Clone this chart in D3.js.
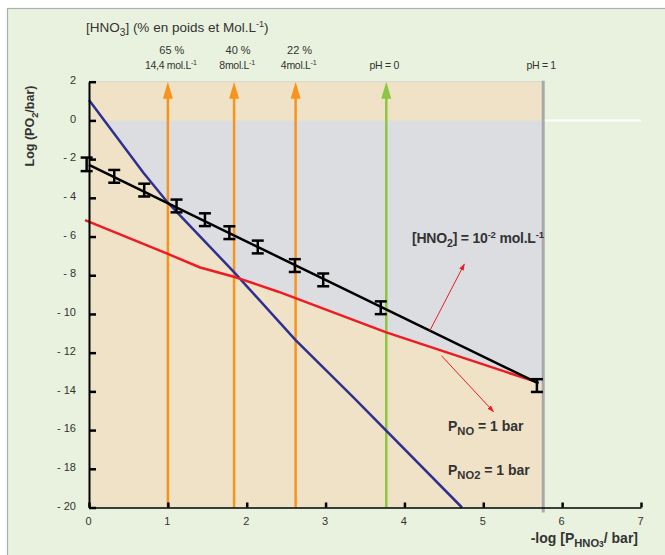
<!DOCTYPE html>
<html><head><meta charset="utf-8">
<script src="https://cdn.jsdelivr.net/npm/d3@7"></script>
<style>html,body{margin:0;padding:0;background:#fff}svg{display:block}text{font-family:"Liberation Sans",Arial,sans-serif}</style>
</head><body><svg id="c" width="665" height="555"></svg>
<script>
// ---- data ----
const xTicks = [0,1,2,3,4,5,6,7];
const yTicks = [2,0,-2,-4,-6,-8,-10,-12,-14,-16,-18,-20];
// P_NO2 = 1 bar (blue)
const blueX = [0, 0.69, 1.0, 1.83, 2.62, 3.35, 4.73];
const blueY = [1.05, -2.7, -4.25, -7.8, -11.35, -14.3, -20];
// P_NO = 1 bar (red)
const redX = [-0.05, 1.0, 1.41, 1.87, 2.4, 3.77, 5.7];
const redY = [-5.15, -6.9, -7.6, -8.12, -8.85, -10.95, -13.55];
// [HNO2] = 1e-2 mol/L fitted line (black)
const fitX = [0, 5.7];
const fitY = [-2.3, -13.59];
// measurements with error bars
const measX = [-0.03, 0.32, 0.70, 1.11, 1.47, 1.78, 2.14, 2.61, 2.97, 3.70, 5.68];
const measY = [-2.27, -2.89, -3.6, -4.42, -5.13, -5.8, -6.54, -7.5, -8.24, -9.68, -13.7];
const measErr = [0.35, 0.33, 0.33, 0.33, 0.33, 0.33, 0.33, 0.33, 0.33, 0.33, 0.33];
// concentration arrows
const concX = [1.0, 1.84, 2.62];
const concPct = ["65 %", "40 %", "22 %"];
const concMol = ["14,4 mol.L", "8mol.L", "4mol.L"];
const phX = [3.77, 5.76];
const phLabels = ["pH = 0", "pH = 1"];
const limitX = 5.76;
// red pointer arrows [x1,y1,x2,y2]
const ptrHNO2 = [4.32, -10.88, 4.76, -7.42];
const ptrNO = [4.47, -12.16, 5.13, -15.05];

// ---- scales ----
const svg = d3.select("#c");
const x = d3.scaleLinear().domain([0,7]).range([89,641]);
const y = d3.scaleLinear().domain([2,-20]).range([81.7,507.5]);

// background frame
svg.append("rect").attr("x",7.5).attr("y",8.5).attr("width",700).attr("height",600)
  .attr("fill","#e9f2de").attr("stroke","#a9aeb0").attr("stroke-width",1.2);

// tan domain
svg.append("rect").attr("x",x(0)).attr("y",y(2)).attr("width",x(limitX)-x(0)).attr("height",y(-20)-y(2))
  .attr("fill","#f0e2c6");
svg.append("line").attr("x1",x(0)).attr("x2",x(limitX)).attr("y1",y(2)).attr("y2",y(2))
  .attr("stroke","#d9d6cc").attr("stroke-width",1);

// gray region: below 0, above max(blue, red)
function interp(xs, ys, v){
  if (v <= xs[0]) { const s=(ys[1]-ys[0])/(xs[1]-xs[0]); return ys[0]+s*(v-xs[0]); }
  for (let i=1;i<xs.length;i++){ if (v<=xs[i]) { const t=(v-xs[i-1])/(xs[i]-xs[i-1]); return ys[i-1]+t*(ys[i]-ys[i-1]); } }
  const n=xs.length-1, s=(ys[n]-ys[n-1])/(xs[n]-xs[n-1]); return ys[n]+s*(v-xs[n]);
}
const samples = d3.range(0, limitX+0.0001, 0.005);
const area = d3.area().x(d=>x(d)).y0(y(0))
  .y1(d=>y(Math.min(0, Math.max(interp(blueX,blueY,d), interp(redX,redY,d)))));
svg.append("path").datum(samples).attr("d",area).attr("fill","#dcdde0");

// white line at 0 beyond limit
svg.append("line").attr("x1",x(limitX)).attr("x2",x(7)).attr("y1",y(0)).attr("y2",y(0))
  .attr("stroke","#fff").attr("stroke-width",2);

// limit gray vertical line
svg.append("line").attr("x1",x(limitX)).attr("x2",x(limitX)).attr("y1",y(2)-1).attr("y2",y(-20)+5)
  .attr("stroke","#a7a9ac").attr("stroke-width",3);

// vertical arrows
function vArrow(xv, color){
  const tip = y(2);
  svg.append("line").attr("x1",x(xv)).attr("x2",x(xv)).attr("y1",y(-20)).attr("y2",tip+10)
    .attr("stroke",color).attr("stroke-width",2.5);
  svg.append("path").attr("d",`M${x(xv)},${tip} L${x(xv)-5},${tip+17} L${x(xv)+5},${tip+17} Z`).attr("fill",color);
}
concX.forEach(v=>vArrow(v,"#f7941d"));
vArrow(phX[0],"#8cc63f");

// lines
const line = d3.line().x(d=>x(d[0])).y(d=>y(d[1]));
svg.append("path").datum(blueX.map((v,i)=>[v,blueY[i]])).attr("d",line)
  .attr("fill","none").attr("stroke","#2e3192").attr("stroke-width",2.5);
svg.append("path").datum(redX.map((v,i)=>[v,redY[i]])).attr("d",line)
  .attr("fill","none").attr("stroke","#ed1c24").attr("stroke-width",2.5).attr("stroke-linejoin","round");
svg.append("path").datum(fitX.map((v,i)=>[v,fitY[i]])).attr("d",line)
  .attr("fill","none").attr("stroke","#000").attr("stroke-width",2.5);

// error bars
const eb = svg.append("g").attr("stroke","#000").attr("stroke-width",2.5);
measX.forEach((v,i)=>{
  const cx=x(v), y1=y(measY[i]+measErr[i]), y2=y(measY[i]-measErr[i]);
  eb.append("line").attr("x1",cx).attr("x2",cx).attr("y1",y1).attr("y2",y2);
  eb.append("line").attr("x1",cx-6).attr("x2",cx+6).attr("y1",y1).attr("y2",y1);
  eb.append("line").attr("x1",cx-6).attr("x2",cx+6).attr("y1",y2).attr("y2",y2);
});

// red pointer arrows
svg.append("defs").append("marker").attr("id","ah").attr("viewBox","0 0 10 10").attr("refX",9).attr("refY",5)
  .attr("markerWidth",7).attr("markerHeight",7).attr("orient","auto")
  .append("path").attr("d","M0,1.5 L10,5 L0,8.5 Z").attr("fill","#ed1c24");
[ptrHNO2, ptrNO].forEach(p=>{
  svg.append("line").attr("x1",x(p[0])).attr("y1",y(p[1])).attr("x2",x(p[2])).attr("y2",y(p[3]))
    .attr("stroke","#ed1c24").attr("stroke-width",1).attr("marker-end","url(#ah)");
});

// axes
const fmtY = d => d<0 ? "- " + (-d) : String(d);
const ya = svg.append("g").attr("transform",`translate(${x(0)},0)`)
  .call(d3.axisLeft(y).tickValues(yTicks).tickSizeInner(-7).tickSizeOuter(0).tickPadding(13).tickFormat(fmtY));
ya.select(".domain").attr("stroke","#000").attr("stroke-width",2);
ya.selectAll(".tick line").attr("stroke","#000").attr("stroke-width",2.5);
ya.selectAll(".tick text").attr("font-size",11).attr("fill","#333").attr("dy","0.15em")
  .attr("font-family","Liberation Sans, Arial, sans-serif");

const xa = svg.append("g").attr("transform",`translate(0,${y(-20)})`)
  .call(d3.axisBottom(x).tickValues(xTicks).tickSizeInner(-5).tickSizeOuter(0).tickPadding(10).tickFormat(d3.format("d")));
xa.select(".domain").attr("stroke","#000").attr("stroke-width",1.5);
xa.selectAll(".tick line").attr("stroke","#000").attr("stroke-width",2.5);
xa.selectAll(".tick text").attr("font-size",11).attr("fill","#333").attr("dx","-1")
  .attr("font-family","Liberation Sans, Arial, sans-serif");

// helper for rich text
function rich(parent, xp, yp, parts, opts){
  const t = parent.append("text").attr("x",xp).attr("y",yp)
    .attr("font-size",opts.size).attr("fill",opts.fill||"#333").attr("font-weight",opts.weight||"normal")
    .attr("text-anchor",opts.anchor||"start");
  if (opts.spacing) t.attr("letter-spacing",opts.spacing);
  let shift = 0;
  parts.forEach(p=>{
    const s = t.append("tspan").text(p.t);
    const target = p.sub ? opts.size*0.3 : p.sup ? -opts.size*0.35 : 0;
    const dy = target - shift;
    if (dy !== 0) s.attr("dy", dy);
    shift = target;
    if (p.sub || p.sup) s.attr("font-size", opts.size*(p.scale||0.68));
  });
  return t;
}

// title
rich(svg, 86, 32, [{t:"[HNO"},{t:"3",sub:true,scale:0.75},{t:"] (% en poids et Mol.L"},{t:"-1",sup:true},{t:")"}], {size:13.5});

// concentration labels
concX.forEach((v,i)=>{
  svg.append("text").attr("x",x(v)+4).attr("y",54).attr("text-anchor","middle")
    .attr("font-size",11).attr("fill","#333").text(concPct[i]);
  rich(svg, x(v)+3, 69, [{t:concMol[i]},{t:"-1",sup:true}], {size:10.5, anchor:"middle", spacing:-0.3});
});
phX.forEach((v,i)=>{
  svg.append("text").attr("x",x(v)-2).attr("y",69).attr("text-anchor","middle")
    .attr("font-size",10.5).attr("fill","#333").attr("letter-spacing",-0.3).text(phLabels[i]);
});

// axis titles
const yl = svg.append("g").attr("transform","translate(34,126) rotate(-90)");
rich(yl, 0, 0, [{t:"Log (PO"},{t:"2",sub:true,scale:0.75},{t:"/bar)"}], {size:12.5, weight:"bold", anchor:"middle"});
rich(svg, 638, 543, [{t:"-log [P"},{t:"HNO",sub:true,scale:0.8},{t:"3",sub:true,scale:0.6},{t:"/ bar]"}], {size:14, weight:"bold", anchor:"end"});

// annotations
rich(svg, 412, 243, [{t:"[HNO"},{t:"2",sub:true,scale:0.75},{t:"] = 10"},{t:"-2",sup:true},{t:" mol.L"},{t:"-1",sup:true}], {size:14, weight:"bold", spacing:-0.2});
rich(svg, 448, 431, [{t:"P"},{t:"NO",sub:true,scale:0.8},{t:" = 1 bar"}], {size:14, weight:"bold"});
rich(svg, 448, 475, [{t:"P"},{t:"NO2",sub:true,scale:0.8},{t:" = 1 bar"}], {size:14, weight:"bold"});
</script></body></html>
